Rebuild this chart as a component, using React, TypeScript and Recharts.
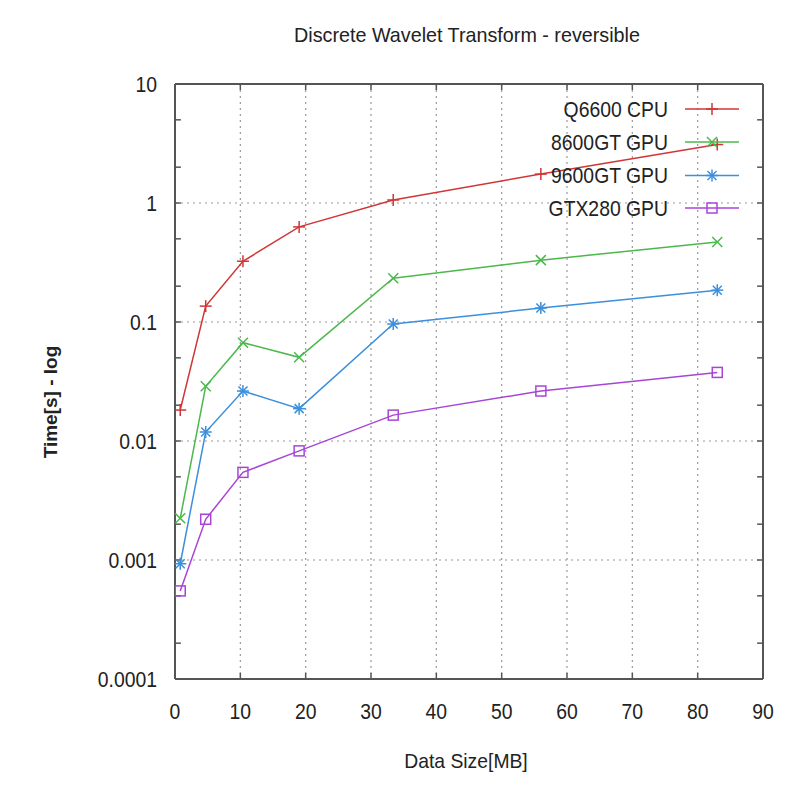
import React from 'react';
import { LineChart, Line, XAxis, YAxis, CartesianGrid, ReferenceLine, Legend } from 'recharts';

const sizes = [0.8, 4.7, 10.4, 19.0, 33.4, 56.0, 83.0];
const cpuQ6600 = [0.0182, 0.136, 0.324, 0.63, 1.06, 1.75, 3.1];
const gpu8600 = [0.00224, 0.0288, 0.067, 0.0505, 0.233, 0.331, 0.471];
const gpu9600 = [0.00093, 0.0119, 0.0263, 0.0187, 0.0962, 0.131, 0.185];
const gpuGTX280 = [0.00055, 0.0022, 0.00545, 0.00826, 0.0165, 0.0263, 0.0377];

const seriesNames = ['Q6600 CPU', '8600GT GPU', '9600GT GPU', 'GTX280 GPU'];
const seriesKeys = ['cpu', 'g8600', 'g9600', 'gtx280'];
const seriesColors = ['#d03636', '#4cb84c', '#3b8fdc', '#a845d6'];
const seriesMarkers = ['plus', 'cross', 'star', 'square'];

const xTicks = [0, 10, 20, 30, 40, 50, 60, 70, 80, 90];
const yTicks = [0.0001, 0.001, 0.01, 0.1, 1, 10];
const yTickLabels = ['0.0001', '0.001', '0.01', '0.1', '1', '10'];
const yMinorTicks = [0.0002, 0.0005, 0.002, 0.005, 0.02, 0.05, 0.2, 0.5, 2, 5];

const data = sizes.map((s, i) => ({
  size: s,
  cpu: cpuQ6600[i],
  g8600: gpu8600[i],
  g9600: gpu9600[i],
  gtx280: gpuGTX280[i],
}));

const FONT = '"Liberation Sans", Arial, sans-serif';
const TEXT = '#222';
const FRAME = '#555';
const SQ = 0.88;

function Marker({ kind, cx, cy, color }: { kind: string; cx: number; cy: number; color: string }) {
  const s = 6;
  if (kind === 'plus') {
    return (
      <g stroke={color} strokeWidth={1.5}>
        <line x1={cx - s} y1={cy} x2={cx + s} y2={cy} />
        <line x1={cx} y1={cy - s} x2={cx} y2={cy + s} />
      </g>
    );
  }
  if (kind === 'cross') {
    const d = 5;
    return (
      <g stroke={color} strokeWidth={1.5}>
        <line x1={cx - d} y1={cy - d} x2={cx + d} y2={cy + d} />
        <line x1={cx - d} y1={cy + d} x2={cx + d} y2={cy - d} />
      </g>
    );
  }
  if (kind === 'star') {
    const d = 4.5;
    return (
      <g stroke={color} strokeWidth={1.5}>
        <line x1={cx - s} y1={cy} x2={cx + s} y2={cy} />
        <line x1={cx} y1={cy - s} x2={cx} y2={cy + s} />
        <line x1={cx - d} y1={cy - d} x2={cx + d} y2={cy + d} />
        <line x1={cx - d} y1={cy + d} x2={cx + d} y2={cy - d} />
      </g>
    );
  }
  return <rect x={cx - 5} y={cy - 5} width={10} height={10} fill="none" stroke={color} strokeWidth={1.5} />;
}

function makeDot(kind: string, color: string) {
  return (props: any) => {
    const { cx, cy, index } = props;
    if (cx == null || cy == null) return <g key={index} />;
    return <Marker key={index} kind={kind} cx={cx} cy={cy} color={color} />;
  };
}

function XTick(props: any) {
  const { x, y, payload } = props;
  return (
    <text
      transform={`translate(${x},${y}) scale(${SQ},1)`}
      textAnchor="middle"
      dy="0.71em"
      fontFamily={FONT}
      fontSize={22}
      fill={TEXT}
    >
      {payload.value}
    </text>
  );
}

function YTick(props: any) {
  const { x, y, payload } = props;
  const idx = yTicks.indexOf(payload.value);
  return (
    <text
      transform={`translate(${x},${y}) scale(${SQ},1)`}
      textAnchor="end"
      dy="0.355em"
      fontFamily={FONT}
      fontSize={22}
      fill={TEXT}
    >
      {idx >= 0 ? yTickLabels[idx] : String(payload.value)}
    </text>
  );
}

function LegendBox() {
  const rows = [17, 50, 83.5, 116];
  return (
    <svg width={280} height={132} style={{ display: 'block' }}>
      {seriesNames.map((n, i) => (
        <g key={n}>
          <text
            transform={`translate(188,${rows[i]}) scale(${SQ},1)`}
            dy="0.35em"
            textAnchor="end"
            fontFamily={FONT}
            fontSize={22}
            fill={TEXT}
          >
            {n}
          </text>
          <line x1={205} y1={rows[i]} x2={259} y2={rows[i]} stroke={seriesColors[i]} strokeWidth={1.5} />
          <Marker kind={seriesMarkers[i]} cx={232} cy={rows[i]} color={seriesColors[i]} />
        </g>
      ))}
    </svg>
  );
}

export default function App() {
  return (
    <div style={{ position: 'absolute', left: 0, top: 0, width: 808, height: 796, background: '#fff', fontFamily: FONT }}>
      <div
        style={{
          position: 'absolute',
          left: 0,
          width: 934,
          top: 22,
          textAlign: 'center',
          fontSize: 21,
          color: TEXT,
          lineHeight: '26px',
          transform: 'scaleX(0.94)',
          transformOrigin: '467px 0',
        }}
      >
        Discrete Wavelet Transform - reversible
      </div>
      <div
        style={{
          position: 'absolute',
          left: 0,
          width: 932,
          top: 748,
          textAlign: 'center',
          fontSize: 21,
          color: TEXT,
          lineHeight: '26px',
          transform: 'scaleX(0.92)',
          transformOrigin: '466px 0',
        }}
      >
        Data Size[MB]
      </div>
      <div
        style={{
          position: 'absolute',
          left: 51 - 100,
          top: 402 - 13,
          width: 200,
          textAlign: 'center',
          fontSize: 19,
          fontWeight: 'bold',
          color: TEXT,
          lineHeight: '26px',
          transform: 'rotate(-90deg)',
        }}
      >
        Time[s] - log
      </div>
      <LineChart
        width={808}
        height={796}
        data={data}
        margin={{ top: 84, right: 45, bottom: 77, left: 95 }}
      >
        <CartesianGrid stroke="#9a9a9a" strokeDasharray="2 4" strokeWidth={1.2} />
        <XAxis
          dataKey="size"
          type="number"
          domain={[0, 90]}
          ticks={xTicks}
          height={40}
          tickSize={0}
          tickMargin={24}
          tickLine={false}
          axisLine={{ stroke: FRAME, strokeWidth: 2 }}
          tick={<XTick />}
          allowDataOverflow
        />
        <YAxis
          scale="log"
          type="number"
          domain={[0.0001, 10]}
          ticks={yTicks}
          width={80}
          tickSize={0}
          tickMargin={18}
          tickLine={false}
          axisLine={{ stroke: FRAME, strokeWidth: 2 }}
          tick={<YTick />}
          allowDataOverflow
        />
        <ReferenceLine x={90} stroke={FRAME} strokeWidth={2} />
        <ReferenceLine y={10} stroke={FRAME} strokeWidth={2} />
        {yTicks.concat(yMinorTicks).map((v) => (
          <ReferenceLine
            key={'yl' + v}
            segment={[{ x: 0, y: v }, { x: 0.9, y: v }]}
            stroke={FRAME}
            strokeWidth={1.5}
          />
        ))}
        {yTicks.concat(yMinorTicks).map((v) => (
          <ReferenceLine
            key={'yr' + v}
            segment={[{ x: 89.1, y: v }, { x: 90, y: v }]}
            stroke={FRAME}
            strokeWidth={1.5}
          />
        ))}
        {xTicks.map((v) => (
          <ReferenceLine
            key={'xb' + v}
            segment={[{ x: v, y: 0.0001 }, { x: v, y: 0.0001123 }]}
            stroke={FRAME}
            strokeWidth={1.5}
          />
        ))}
        {xTicks.map((v) => (
          <ReferenceLine
            key={'xt' + v}
            segment={[{ x: v, y: 8.9 }, { x: v, y: 10 }]}
            stroke={FRAME}
            strokeWidth={1.5}
          />
        ))}
        {seriesKeys.map((k, i) => (
          <Line
            key={k}
            dataKey={k}
            name={seriesNames[i]}
            type="linear"
            stroke={seriesColors[i]}
            strokeWidth={1.5}
            dot={makeDot(seriesMarkers[i], seriesColors[i])}
            activeDot={false}
            isAnimationActive={false}
          />
        ))}
        <Legend
          layout="vertical"
          align="center"
          verticalAlign="middle"
          content={() => <LegendBox />}
          wrapperStyle={{ position: 'absolute', left: 480, top: 92, width: 280, height: 132 }}
        />
      </LineChart>
    </div>
  );
}
